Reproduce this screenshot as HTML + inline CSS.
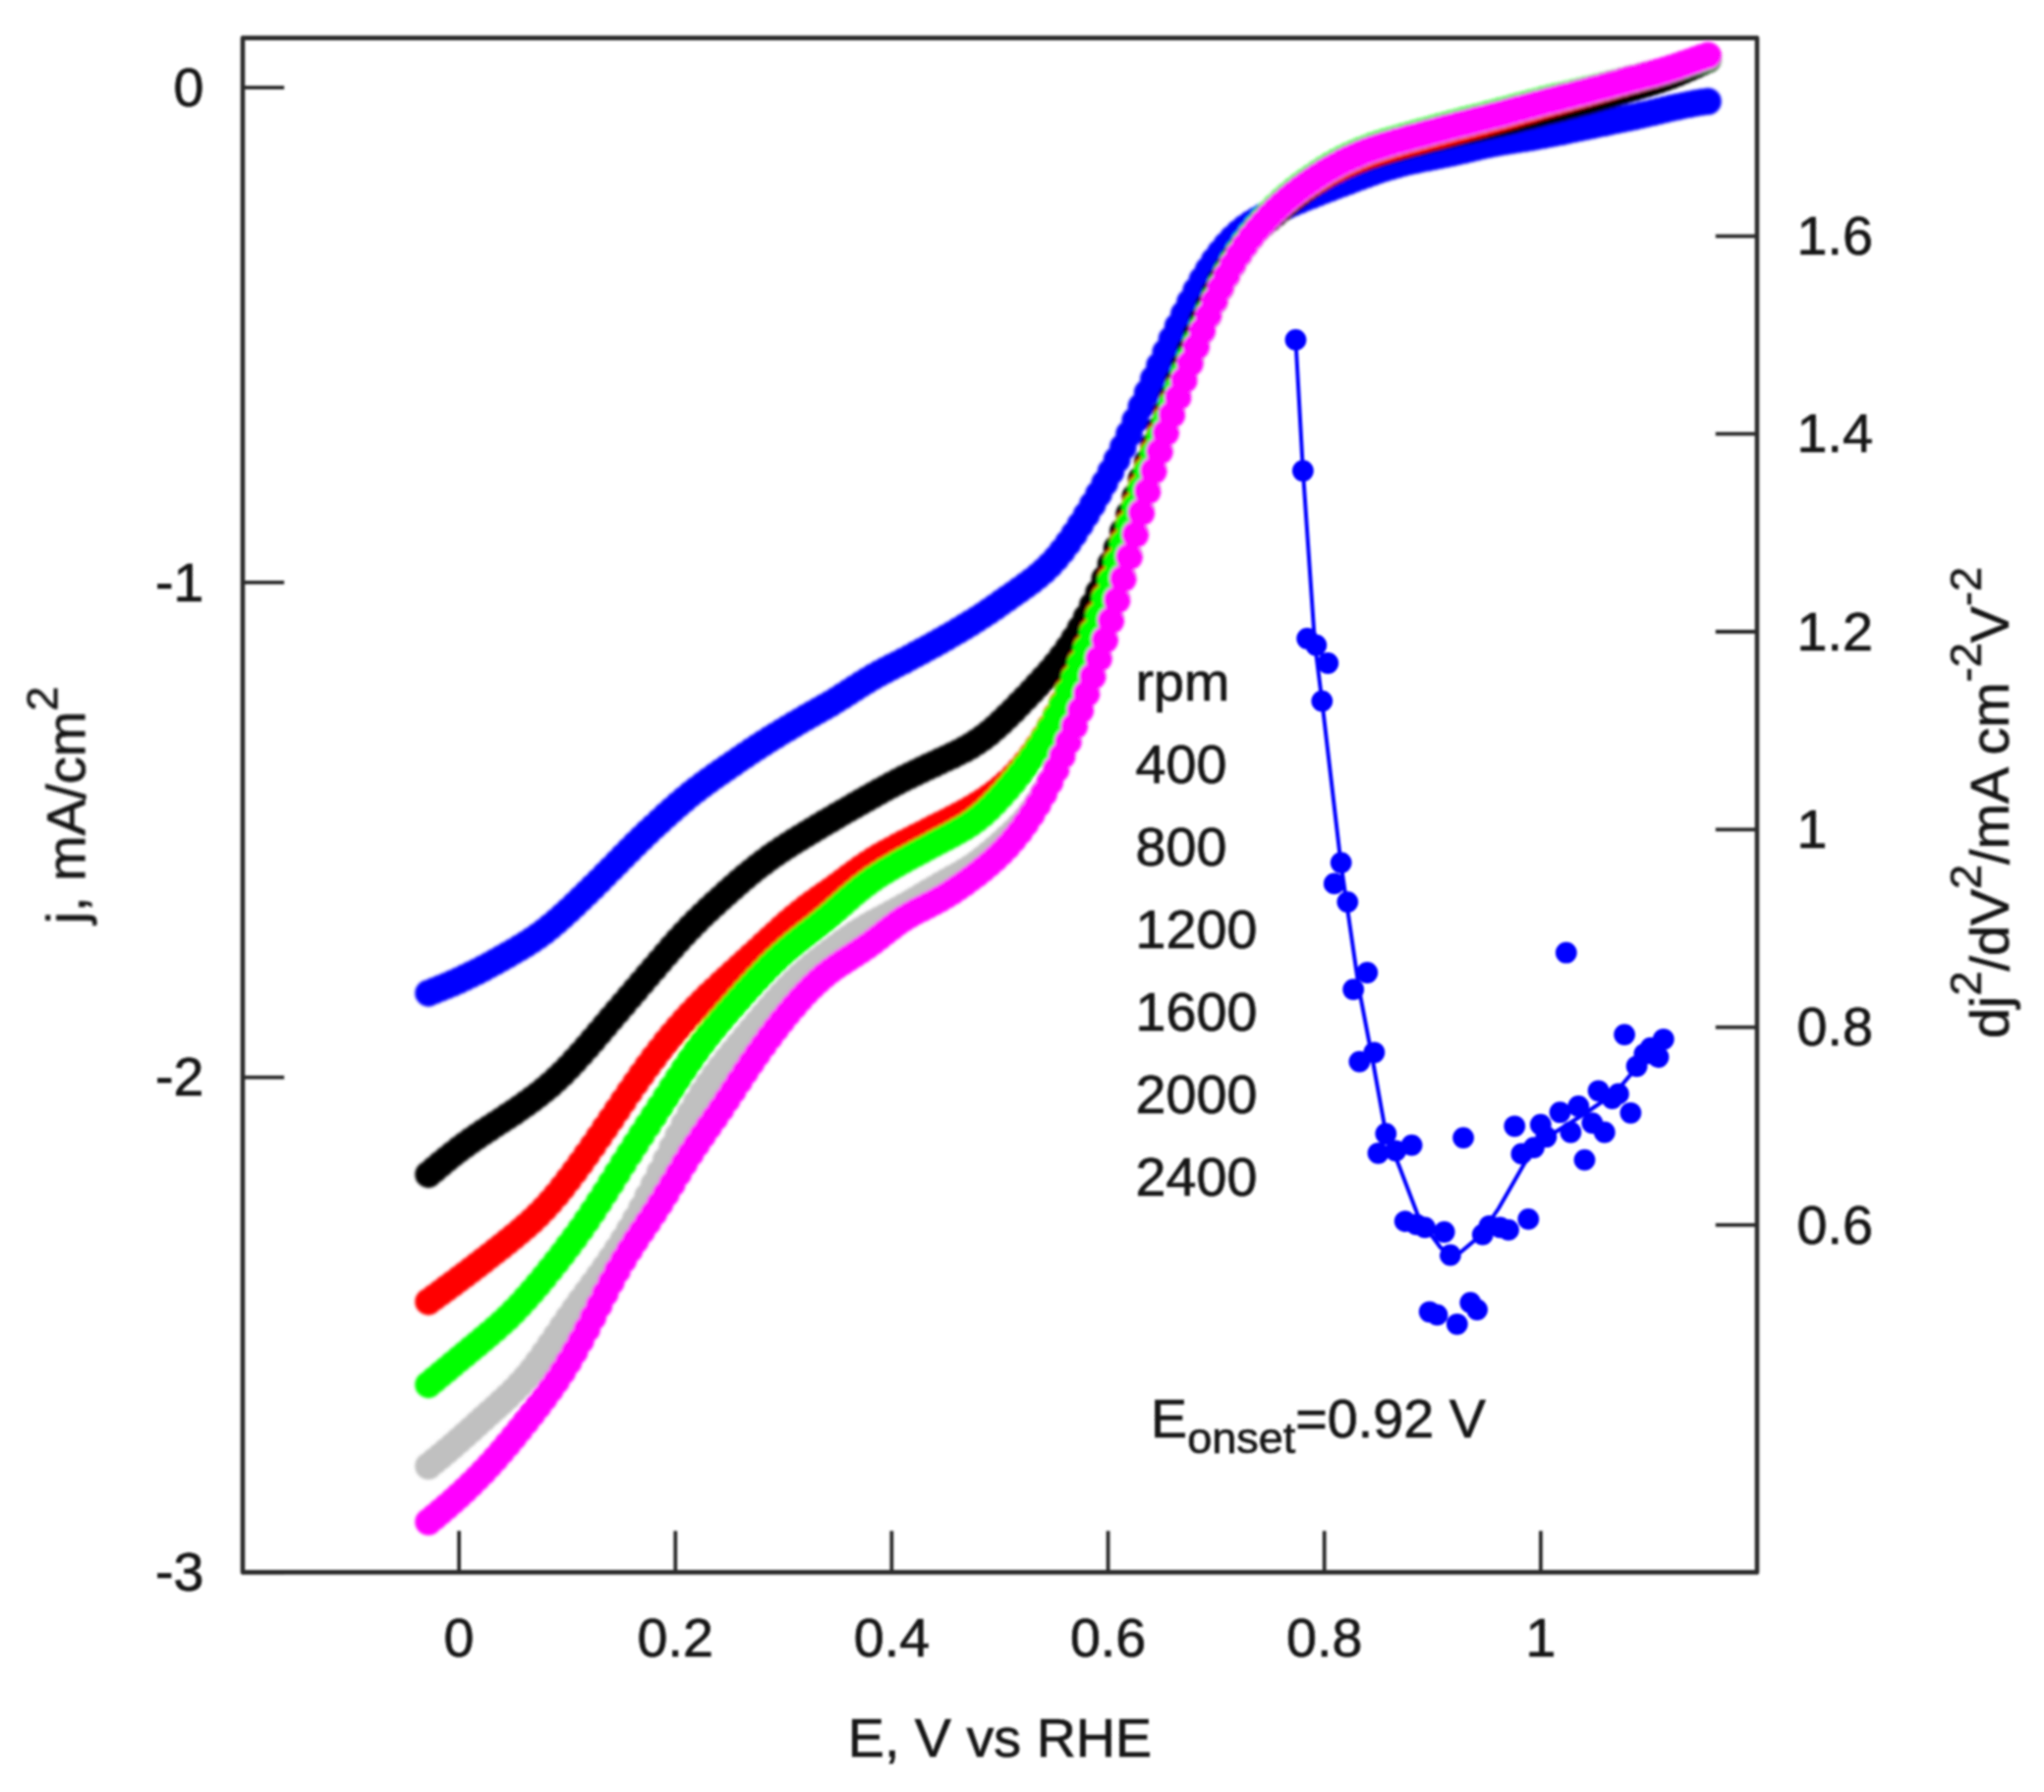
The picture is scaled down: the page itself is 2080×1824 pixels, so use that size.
<!DOCTYPE html>
<html><head><meta charset="utf-8"><title>RDE polarization curves</title>
<style>
html,body{margin:0;padding:0;background:#fff;}
body{width:2080px;height:1824px;overflow:hidden;}
svg{display:block}
text{font-family:"Liberation Sans",sans-serif;font-size:55.7px;fill:#161616;stroke:#161616;stroke-width:0.7px;}
.sm{font-size:45px}
</style></head><body>
<svg width="2080" height="1824" viewBox="0 0 2080 1824">
<rect width="2080" height="1824" fill="#fff"/>
<g filter="url(#bl)">
<g filter="url(#bc)">
<path d="M436.0 1010.9h0M442.2 1008.4h0M448.4 1005.9h0M454.6 1003.4h0M460.8 1000.7h0M467.0 998.0h0M473.2 995.1h0M479.4 992.1h0M485.6 989.0h0M491.8 985.8h0M498.0 982.4h0M504.2 979.0h0M510.4 975.5h0M516.6 972.0h0M522.8 968.4h0M529.0 964.8h0M535.2 961.0h0M541.4 957.0h0M547.6 952.7h0M553.8 948.2h0M560.0 943.3h0M566.2 938.1h0M572.4 932.6h0M578.6 926.9h0M584.8 921.1h0M591.0 915.1h0M597.2 909.1h0M603.4 903.0h0M609.6 896.9h0M615.8 890.6h0M622.0 884.4h0M628.2 878.1h0M634.4 871.8h0M640.6 865.5h0M646.8 859.3h0M653.0 853.3h0M659.2 847.3h0M665.4 841.4h0M671.6 835.7h0M677.8 830.0h0M684.0 824.5h0M690.2 819.0h0M696.4 813.7h0M702.6 808.6h0M708.8 803.7h0M715.0 799.1h0M721.2 794.5h0M727.4 790.1h0M733.6 785.8h0M739.8 781.5h0M746.0 777.2h0M752.2 772.9h0M758.4 768.7h0M764.6 764.6h0M770.8 760.5h0M777.0 756.5h0M783.2 752.6h0M789.4 748.7h0M795.6 744.9h0M801.8 741.2h0M808.0 737.5h0M814.2 733.9h0M820.4 730.3h0M826.6 726.8h0M832.8 723.3h0M839.0 719.8h0M845.2 716.2h0M851.4 712.4h0M857.6 708.5h0M863.8 704.6h0M870.0 700.5h0M876.2 696.6h0M882.4 692.8h0M888.6 689.1h0M894.8 685.6h0M901.0 682.3h0M907.2 679.1h0M913.4 675.9h0M919.6 672.7h0M925.8 669.4h0M932.0 666.1h0M938.2 662.8h0M944.4 659.4h0M950.6 656.0h0M956.8 652.5h0M963.0 649.0h0M969.2 645.4h0M975.4 641.8h0M981.6 638.1h0M987.8 634.3h0M994.0 630.4h0M1000.2 626.4h0M1006.4 622.2h0M1012.6 618.0h0M1018.8 613.6h0M1025.0 609.3h0M1031.2 604.9h0M1037.4 600.5h0M1043.6 596.1h0M1049.8 591.5h0M1056.0 586.6h0M1062.2 581.3h0M1068.4 575.3h0M1074.6 568.6h0M1080.8 561.0h0M1087.0 552.7h0M1093.2 543.7h0M1099.4 534.1h0M1105.6 524.1h0M1111.8 513.7h0M1118.0 503.0h0M1124.2 491.8h0M1130.4 480.2h0M1136.6 468.0h0M1142.8 455.2h0M1149.0 441.8h0M1155.2 427.9h0M1161.4 413.8h0M1167.6 399.6h0M1173.8 385.6h0M1180.0 371.9h0M1186.2 358.4h0M1192.4 345.2h0M1198.6 332.3h0M1204.8 319.6h0M1211.0 307.4h0M1217.2 295.7h0M1223.4 284.7h0M1229.6 274.6h0M1235.8 265.3h0M1242.0 256.9h0M1248.2 249.4h0M1254.4 242.8h0M1260.6 237.0h0M1266.8 232.0h0M1273.0 227.7h0M1279.2 224.0h0M1285.4 220.6h0M1291.6 217.5h0M1297.8 214.7h0M1304.0 211.9h0M1310.2 209.2h0M1316.4 206.6h0M1322.6 204.0h0M1328.8 201.4h0M1335.0 199.0h0M1341.2 196.5h0M1347.4 194.1h0M1353.6 191.8h0M1359.8 189.4h0M1366.0 187.1h0M1372.2 184.8h0M1378.4 182.4h0M1384.6 180.1h0M1390.8 177.8h0M1397.0 175.6h0M1403.2 173.4h0M1409.4 171.4h0M1415.6 169.5h0M1421.8 167.7h0M1428.0 166.1h0M1434.2 164.6h0M1440.4 163.2h0M1446.6 161.9h0M1452.8 160.7h0M1459.0 159.5h0M1465.2 158.3h0M1471.4 157.1h0M1477.6 155.8h0M1483.8 154.4h0M1490.0 153.0h0M1496.2 151.5h0M1502.4 150.1h0M1508.6 148.6h0M1514.8 147.3h0M1521.0 146.1h0M1527.2 144.9h0M1533.4 143.9h0M1539.6 142.9h0M1545.8 141.9h0M1552.0 141.0h0M1558.2 140.0h0M1564.4 138.9h0M1570.6 137.8h0M1576.8 136.6h0M1583.0 135.4h0M1589.2 134.2h0M1595.4 132.9h0M1601.6 131.6h0M1607.8 130.3h0M1614.0 129.0h0M1620.2 127.7h0M1626.4 126.4h0M1632.6 125.2h0M1638.8 123.9h0M1645.0 122.6h0M1651.2 121.3h0M1657.4 120.0h0M1663.6 118.7h0M1669.8 117.3h0M1676.0 115.9h0M1682.2 114.5h0M1688.4 113.0h0M1694.6 111.5h0M1700.8 110.1h0M1707.0 108.7h0M1713.2 107.4h0M1719.4 106.2h0M1725.6 105.1h0M1731.8 104.1h0M1738.0 103.3h0" fill="none" stroke="#0000ff" stroke-width="27.5" stroke-linecap="round"/>
<path d="M436.0 1195.4h0M442.2 1190.2h0M448.4 1185.0h0M454.6 1179.9h0M460.8 1174.9h0M467.0 1170.1h0M473.2 1165.5h0M479.4 1161.0h0M485.6 1156.7h0M491.8 1152.5h0M498.0 1148.5h0M504.2 1144.4h0M510.4 1140.4h0M516.6 1136.3h0M522.8 1132.2h0M529.0 1127.9h0M535.2 1123.6h0M541.4 1119.1h0M547.6 1114.4h0M553.8 1109.4h0M560.0 1104.2h0M566.2 1098.6h0M572.4 1092.7h0M578.6 1086.4h0M584.8 1079.8h0M591.0 1072.9h0M597.2 1065.9h0M603.4 1058.7h0M609.6 1051.4h0M615.8 1044.1h0M622.0 1036.8h0M628.2 1029.5h0M634.4 1022.2h0M640.6 1014.9h0M646.8 1007.7h0M653.0 1000.4h0M659.2 993.1h0M665.4 985.9h0M671.6 978.6h0M677.8 971.4h0M684.0 964.3h0M690.2 957.3h0M696.4 950.5h0M702.6 944.0h0M708.8 937.7h0M715.0 931.6h0M721.2 925.7h0M727.4 920.0h0M733.6 914.4h0M739.8 908.8h0M746.0 903.3h0M752.2 897.8h0M758.4 892.5h0M764.6 887.4h0M770.8 882.4h0M777.0 877.7h0M783.2 873.1h0M789.4 868.8h0M795.6 864.6h0M801.8 860.6h0M808.0 856.6h0M814.2 852.8h0M820.4 849.0h0M826.6 845.2h0M832.8 841.5h0M839.0 837.8h0M845.2 834.2h0M851.4 830.5h0M857.6 826.9h0M863.8 823.4h0M870.0 819.8h0M876.2 816.3h0M882.4 812.8h0M888.6 809.3h0M894.8 805.8h0M901.0 802.4h0M907.2 799.0h0M913.4 795.8h0M919.6 792.6h0M925.8 789.5h0M932.0 786.5h0M938.2 783.5h0M944.4 780.6h0M950.6 777.7h0M956.8 774.8h0M963.0 771.9h0M969.2 769.0h0M975.4 765.9h0M981.6 762.7h0M987.8 759.2h0M994.0 755.3h0M1000.2 751.0h0M1006.4 746.2h0M1012.6 740.9h0M1018.8 735.3h0M1025.0 729.3h0M1031.2 723.2h0M1037.4 716.8h0M1043.6 710.4h0M1049.8 703.9h0M1056.0 697.3h0M1062.2 690.5h0M1068.4 683.6h0M1074.6 676.2h0M1080.8 668.3h0M1087.0 659.6h0M1093.2 650.1h0M1099.4 639.7h0M1105.6 628.4h0M1111.8 616.2h0M1118.0 603.1h0M1124.2 589.0h0M1130.4 574.0h0M1136.6 557.9h0M1142.8 541.0h0M1149.0 523.4h0M1155.2 505.6h0M1161.4 487.7h0M1167.6 470.2h0M1173.8 453.0h0M1180.0 436.2h0M1186.2 419.8h0M1192.4 403.6h0M1198.6 387.6h0M1204.8 371.7h0M1211.0 356.0h0M1217.2 340.5h0M1223.4 325.5h0M1229.6 311.2h0M1235.8 297.7h0M1242.0 285.2h0M1248.2 273.9h0M1254.4 263.8h0M1260.6 254.9h0M1266.8 247.0h0M1273.0 240.0h0M1279.2 233.8h0M1285.4 228.1h0M1291.6 222.7h0M1297.8 217.5h0M1304.0 212.4h0M1310.2 207.3h0M1316.4 202.4h0M1322.6 197.5h0M1328.8 192.8h0M1335.0 188.4h0M1341.2 184.2h0M1347.4 180.4h0M1353.6 176.8h0M1359.8 173.6h0M1366.0 170.5h0M1372.2 167.8h0M1378.4 165.2h0M1384.6 162.8h0M1390.8 160.6h0M1397.0 158.5h0M1403.2 156.5h0M1409.4 154.7h0M1415.6 152.9h0M1421.8 151.2h0M1428.0 149.5h0M1434.2 147.9h0M1440.4 146.3h0M1446.6 144.7h0M1452.8 143.1h0M1459.0 141.5h0M1465.2 140.0h0M1471.4 138.5h0M1477.6 137.0h0M1483.8 135.5h0M1490.0 134.1h0M1496.2 132.7h0M1502.4 131.3h0M1508.6 129.9h0M1514.8 128.5h0M1521.0 127.1h0M1527.2 125.7h0M1533.4 124.2h0M1539.6 122.7h0M1545.8 121.1h0M1552.0 119.6h0M1558.2 118.0h0M1564.4 116.5h0M1570.6 114.9h0M1576.8 113.3h0M1583.0 111.8h0M1589.2 110.2h0M1595.4 108.6h0M1601.6 107.0h0M1607.8 105.4h0M1614.0 103.7h0M1620.2 102.0h0M1626.4 100.3h0M1632.6 98.5h0M1638.8 96.7h0M1645.0 94.8h0M1651.2 93.0h0M1657.4 91.1h0M1663.6 89.3h0M1669.8 87.4h0M1676.0 85.5h0M1682.2 83.5h0M1688.4 81.5h0M1694.6 79.3h0M1700.8 77.0h0M1707.0 74.5h0M1713.2 71.9h0M1719.4 69.1h0M1725.6 66.3h0M1731.8 63.4h0M1738.0 60.6h0" fill="none" stroke="#000000" stroke-width="27.5" stroke-linecap="round"/>
<path d="M436.0 1324.9h0M442.2 1320.4h0M448.4 1315.9h0M454.6 1311.3h0M460.8 1306.8h0M467.0 1302.1h0M473.2 1297.5h0M479.4 1292.8h0M485.6 1288.0h0M491.8 1283.3h0M498.0 1278.4h0M504.2 1273.6h0M510.4 1268.7h0M516.6 1263.7h0M522.8 1258.7h0M529.0 1253.6h0M535.2 1248.3h0M541.4 1242.7h0M547.6 1236.7h0M553.8 1230.4h0M560.0 1223.6h0M566.2 1216.4h0M572.4 1208.7h0M578.6 1200.7h0M584.8 1192.5h0M591.0 1184.0h0M597.2 1175.3h0M603.4 1166.4h0M609.6 1157.4h0M615.8 1148.3h0M622.0 1139.2h0M628.2 1130.0h0M634.4 1120.7h0M640.6 1111.6h0M646.8 1102.6h0M653.0 1093.7h0M659.2 1085.1h0M665.4 1076.7h0M671.6 1068.6h0M677.8 1060.8h0M684.0 1053.3h0M690.2 1046.0h0M696.4 1039.0h0M702.6 1032.3h0M708.8 1025.7h0M715.0 1019.4h0M721.2 1013.3h0M727.4 1007.4h0M733.6 1001.6h0M739.8 995.9h0M746.0 990.2h0M752.2 984.6h0M758.4 979.0h0M764.6 973.3h0M770.8 967.6h0M777.0 961.8h0M783.2 956.1h0M789.4 950.4h0M795.6 944.7h0M801.8 939.2h0M808.0 934.0h0M814.2 928.9h0M820.4 924.1h0M826.6 919.5h0M832.8 915.1h0M839.0 910.8h0M845.2 906.4h0M851.4 902.0h0M857.6 897.4h0M863.8 892.8h0M870.0 888.2h0M876.2 883.8h0M882.4 879.6h0M888.6 875.6h0M894.8 871.8h0M901.0 868.3h0M907.2 864.9h0M913.4 861.6h0M919.6 858.3h0M925.8 855.2h0M932.0 852.0h0M938.2 848.9h0M944.4 845.8h0M950.6 842.6h0M956.8 839.5h0M963.0 836.4h0M969.2 833.2h0M975.4 830.0h0M981.6 826.7h0M987.8 823.3h0M994.0 819.6h0M1000.2 815.7h0M1006.4 811.5h0M1012.6 807.0h0M1018.8 802.0h0M1025.0 796.5h0M1031.2 790.6h0M1037.4 784.0h0M1043.6 776.8h0M1049.8 768.8h0M1056.0 760.0h0M1062.2 750.4h0M1068.4 739.8h0M1074.6 728.3h0M1080.8 715.8h0M1087.0 702.5h0M1093.2 688.5h0M1099.4 673.6h0M1105.6 658.0h0M1111.8 641.6h0M1118.0 624.5h0M1124.2 606.7h0M1130.4 588.3h0M1136.6 569.6h0M1142.8 550.7h0M1149.0 531.8h0M1155.2 513.1h0M1161.4 494.7h0M1167.6 476.7h0M1173.8 459.2h0M1180.0 442.3h0M1186.2 425.8h0M1192.4 409.9h0M1198.6 394.5h0M1204.8 379.5h0M1211.0 364.8h0M1217.2 350.1h0M1223.4 335.5h0M1229.6 321.1h0M1235.8 307.0h0M1242.0 293.6h0M1248.2 281.1h0M1254.4 269.7h0M1260.6 259.4h0M1266.8 250.1h0M1273.0 241.7h0M1279.2 234.0h0M1285.4 227.0h0M1291.6 220.4h0M1297.8 214.4h0M1304.0 208.9h0M1310.2 203.8h0M1316.4 199.0h0M1322.6 194.6h0M1328.8 190.4h0M1335.0 186.3h0M1341.2 182.5h0M1347.4 178.9h0M1353.6 175.4h0M1359.8 172.2h0M1366.0 169.1h0M1372.2 166.2h0M1378.4 163.5h0M1384.6 161.0h0M1390.8 158.6h0M1397.0 156.5h0M1403.2 154.4h0M1409.4 152.5h0M1415.6 150.6h0M1421.8 148.9h0M1428.0 147.1h0M1434.2 145.4h0M1440.4 143.8h0M1446.6 142.1h0M1452.8 140.4h0M1459.0 138.8h0M1465.2 137.2h0M1471.4 135.5h0M1477.6 133.9h0M1483.8 132.2h0M1490.0 130.6h0M1496.2 128.9h0M1502.4 127.2h0M1508.6 125.5h0M1514.8 123.8h0M1521.0 122.0h0M1527.2 120.3h0M1533.4 118.5h0M1539.6 116.7h0M1545.8 114.9h0M1552.0 113.0h0M1558.2 111.2h0M1564.4 109.4h0M1570.6 107.6h0M1576.8 105.8h0M1583.0 104.1h0M1589.2 102.3h0M1595.4 100.6h0M1601.6 98.8h0M1607.8 97.1h0M1614.0 95.3h0M1620.2 93.6h0M1626.4 91.8h0M1632.6 90.0h0M1638.8 88.2h0M1645.0 86.4h0M1651.2 84.7h0M1657.4 82.9h0M1663.6 81.2h0M1669.8 79.6h0M1676.0 77.9h0M1682.2 76.2h0M1688.4 74.4h0M1694.6 72.6h0M1700.8 70.6h0M1707.0 68.5h0M1713.2 66.3h0M1719.4 64.0h0M1725.6 61.8h0M1731.8 59.6h0M1738.0 57.5h0" fill="none" stroke="#ff0000" stroke-width="27.5" stroke-linecap="round"/>
<path d="M436.0 1409.4h0M442.2 1404.2h0M448.4 1399.1h0M454.6 1394.0h0M460.8 1388.8h0M467.0 1383.6h0M473.2 1378.5h0M479.4 1373.3h0M485.6 1368.2h0M491.8 1363.0h0M498.0 1357.8h0M504.2 1352.5h0M510.4 1346.9h0M516.6 1341.2h0M522.8 1335.0h0M529.0 1328.6h0M535.2 1321.8h0M541.4 1314.8h0M547.6 1307.5h0M553.8 1300.0h0M560.0 1292.3h0M566.2 1284.5h0M572.4 1276.5h0M578.6 1268.3h0M584.8 1260.0h0M591.0 1251.4h0M597.2 1242.5h0M603.4 1233.3h0M609.6 1223.8h0M615.8 1214.1h0M622.0 1204.2h0M628.2 1194.3h0M634.4 1184.3h0M640.6 1174.5h0M646.8 1164.7h0M653.0 1155.0h0M659.2 1145.5h0M665.4 1135.9h0M671.6 1126.4h0M677.8 1116.9h0M684.0 1107.3h0M690.2 1097.8h0M696.4 1088.3h0M702.6 1079.0h0M708.8 1070.0h0M715.0 1061.4h0M721.2 1053.3h0M727.4 1045.5h0M733.6 1038.0h0M739.8 1030.8h0M746.0 1023.7h0M752.2 1016.7h0M758.4 1009.8h0M764.6 1003.0h0M770.8 996.3h0M777.0 989.7h0M783.2 983.3h0M789.4 977.2h0M795.6 971.4h0M801.8 965.9h0M808.0 960.7h0M814.2 955.7h0M820.4 950.8h0M826.6 946.0h0M832.8 941.1h0M839.0 936.0h0M845.2 930.7h0M851.4 925.3h0M857.6 919.8h0M863.8 914.3h0M870.0 908.9h0M876.2 903.8h0M882.4 899.0h0M888.6 894.5h0M894.8 890.4h0M901.0 886.5h0M907.2 882.9h0M913.4 879.3h0M919.6 875.8h0M925.8 872.4h0M932.0 869.1h0M938.2 865.7h0M944.4 862.4h0M950.6 859.1h0M956.8 855.8h0M963.0 852.6h0M969.2 849.3h0M975.4 845.8h0M981.6 842.2h0M987.8 838.2h0M994.0 833.7h0M1000.2 828.7h0M1006.4 823.0h0M1012.6 816.8h0M1018.8 810.1h0M1025.0 803.1h0M1031.2 795.7h0M1037.4 787.9h0M1043.6 779.8h0M1049.8 771.2h0M1056.0 762.0h0M1062.2 752.1h0M1068.4 741.4h0M1074.6 729.8h0M1080.8 717.4h0M1087.0 704.2h0M1093.2 690.2h0M1099.4 675.5h0M1105.6 660.0h0M1111.8 643.7h0M1118.0 626.7h0M1124.2 609.0h0M1130.4 590.7h0M1136.6 572.0h0M1142.8 553.1h0M1149.0 534.2h0M1155.2 515.5h0M1161.4 497.2h0M1167.6 479.2h0M1173.8 461.6h0M1180.0 444.6h0M1186.2 427.9h0M1192.4 411.5h0M1198.6 395.5h0M1204.8 379.6h0M1211.0 364.0h0M1217.2 348.4h0M1223.4 333.1h0M1229.6 318.1h0M1235.8 303.8h0M1242.0 290.2h0M1248.2 277.7h0M1254.4 266.4h0M1260.6 256.1h0M1266.8 246.8h0M1273.0 238.4h0M1279.2 230.7h0M1285.4 223.5h0M1291.6 216.8h0M1297.8 210.5h0M1304.0 204.6h0M1310.2 199.2h0M1316.4 194.1h0M1322.6 189.3h0M1328.8 184.7h0M1335.0 180.4h0M1341.2 176.2h0M1347.4 172.3h0M1353.6 168.6h0M1359.8 165.1h0M1366.0 161.8h0M1372.2 158.8h0M1378.4 155.9h0M1384.6 153.3h0M1390.8 150.9h0M1397.0 148.6h0M1403.2 146.5h0M1409.4 144.6h0M1415.6 142.7h0M1421.8 140.9h0M1428.0 139.2h0M1434.2 137.5h0M1440.4 135.7h0M1446.6 134.1h0M1452.8 132.4h0M1459.0 130.7h0M1465.2 129.1h0M1471.4 127.4h0M1477.6 125.8h0M1483.8 124.2h0M1490.0 122.6h0M1496.2 121.1h0M1502.4 119.5h0M1508.6 117.9h0M1514.8 116.3h0M1521.0 114.7h0M1527.2 113.1h0M1533.4 111.5h0M1539.6 109.8h0M1545.8 108.1h0M1552.0 106.5h0M1558.2 104.8h0M1564.4 103.2h0M1570.6 101.6h0M1576.8 100.1h0M1583.0 98.6h0M1589.2 97.2h0M1595.4 95.7h0M1601.6 94.3h0M1607.8 92.8h0M1614.0 91.3h0M1620.2 89.9h0M1626.4 88.3h0M1632.6 86.8h0M1638.8 85.2h0M1645.0 83.7h0M1651.2 82.2h0M1657.4 80.7h0M1663.6 79.2h0M1669.8 77.8h0M1676.0 76.3h0M1682.2 74.9h0M1688.4 73.4h0M1694.6 71.7h0M1700.8 70.0h0M1707.0 68.1h0M1713.2 66.2h0M1719.4 64.1h0M1725.6 62.2h0M1731.8 60.2h0M1738.0 58.4h0" fill="none" stroke="#00ff00" stroke-width="27.5" stroke-linecap="round"/>
<path d="M436.0 1492.3h0M442.2 1487.3h0M448.4 1482.2h0M454.6 1477.0h0M460.8 1471.7h0M467.0 1466.3h0M473.2 1460.8h0M479.4 1455.3h0M485.6 1449.6h0M491.8 1444.0h0M498.0 1438.4h0M504.2 1432.9h0M510.4 1427.2h0M516.6 1421.5h0M522.8 1415.4h0M529.0 1409.0h0M535.2 1402.1h0M541.4 1394.6h0M547.6 1386.5h0M553.8 1377.8h0M560.0 1368.8h0M566.2 1359.7h0M572.4 1350.5h0M578.6 1341.4h0M584.8 1332.6h0M591.0 1324.0h0M597.2 1315.6h0M603.4 1307.2h0M609.6 1298.7h0M615.8 1290.0h0M622.0 1281.0h0M628.2 1271.7h0M634.4 1261.9h0M640.6 1251.6h0M646.8 1240.9h0M653.0 1229.6h0M659.2 1217.8h0M665.4 1205.6h0M671.6 1193.1h0M677.8 1180.6h0M684.0 1168.1h0M690.2 1156.0h0M696.4 1144.3h0M702.6 1133.2h0M708.8 1122.7h0M715.0 1112.8h0M721.2 1103.6h0M727.4 1094.8h0M733.6 1086.5h0M739.8 1078.6h0M746.0 1070.9h0M752.2 1063.4h0M758.4 1056.0h0M764.6 1048.5h0M770.8 1041.1h0M777.0 1033.8h0M783.2 1026.5h0M789.4 1019.4h0M795.6 1012.5h0M801.8 1005.9h0M808.0 999.7h0M814.2 993.8h0M820.4 988.2h0M826.6 983.0h0M832.8 978.0h0M839.0 973.2h0M845.2 968.5h0M851.4 963.9h0M857.6 959.3h0M863.8 954.9h0M870.0 950.6h0M876.2 946.7h0M882.4 943.0h0M888.6 939.5h0M894.8 936.2h0M901.0 932.9h0M907.2 929.6h0M913.4 926.3h0M919.6 922.8h0M925.8 919.3h0M932.0 915.7h0M938.2 912.0h0M944.4 908.3h0M950.6 904.7h0M956.8 901.1h0M963.0 897.6h0M969.2 894.1h0M975.4 890.7h0M981.6 887.0h0M987.8 883.2h0M994.0 879.0h0M1000.2 874.3h0M1006.4 869.3h0M1012.6 864.0h0M1018.8 858.5h0M1025.0 852.8h0M1031.2 847.0h0M1037.4 840.8h0M1043.6 833.9h0M1049.8 826.0h0M1056.0 817.0h0M1062.2 806.7h0M1068.4 795.1h0M1074.6 782.3h0M1080.8 768.5h0M1087.0 753.6h0M1093.2 737.9h0M1099.4 721.5h0M1105.6 704.5h0M1111.8 686.9h0M1118.0 668.6h0M1124.2 649.7h0M1130.4 629.8h0M1136.6 608.9h0M1142.8 587.1h0M1149.0 564.7h0M1155.2 542.1h0M1161.4 519.7h0M1167.6 498.1h0M1173.8 477.4h0M1180.0 457.7h0M1186.2 438.8h0M1192.4 420.7h0M1198.6 403.2h0M1204.8 386.2h0M1211.0 369.5h0M1217.2 353.2h0M1223.4 337.3h0M1229.6 322.0h0M1235.8 307.5h0M1242.0 293.9h0M1248.2 281.5h0M1254.4 270.2h0M1260.6 259.9h0M1266.8 250.7h0M1273.0 242.3h0M1279.2 234.6h0M1285.4 227.4h0M1291.6 220.6h0M1297.8 214.4h0M1304.0 208.5h0M1310.2 203.1h0M1316.4 197.9h0M1322.6 193.1h0M1328.8 188.6h0M1335.0 184.2h0M1341.2 180.0h0M1347.4 176.1h0M1353.6 172.4h0M1359.8 168.9h0M1366.0 165.6h0M1372.2 162.6h0M1378.4 159.7h0M1384.6 157.1h0M1390.8 154.6h0M1397.0 152.3h0M1403.2 150.2h0M1409.4 148.3h0M1415.6 146.4h0M1421.8 144.6h0M1428.0 142.9h0M1434.2 141.1h0M1440.4 139.4h0M1446.6 137.7h0M1452.8 136.0h0M1459.0 134.4h0M1465.2 132.7h0M1471.4 131.1h0M1477.6 129.4h0M1483.8 127.8h0M1490.0 126.2h0M1496.2 124.7h0M1502.4 123.1h0M1508.6 121.5h0M1514.8 119.9h0M1521.0 118.3h0M1527.2 116.7h0M1533.4 115.0h0M1539.6 113.3h0M1545.8 111.6h0M1552.0 109.9h0M1558.2 108.2h0M1564.4 106.6h0M1570.6 104.9h0M1576.8 103.3h0M1583.0 101.7h0M1589.2 100.1h0M1595.4 98.5h0M1601.6 96.9h0M1607.8 95.3h0M1614.0 93.7h0M1620.2 92.1h0M1626.4 90.4h0M1632.6 88.8h0M1638.8 87.1h0M1645.0 85.4h0M1651.2 83.7h0M1657.4 82.1h0M1663.6 80.5h0M1669.8 78.9h0M1676.0 77.3h0M1682.2 75.7h0M1688.4 74.0h0M1694.6 72.2h0M1700.8 70.2h0M1707.0 68.2h0M1713.2 66.0h0M1719.4 63.9h0M1725.6 61.7h0M1731.8 59.5h0M1738.0 57.5h0" fill="none" stroke="#c0c0c0" stroke-width="27.5" stroke-linecap="round"/>
<path d="M436.0 1549.1h0M442.2 1544.0h0M448.4 1538.8h0M454.6 1533.5h0M460.8 1528.1h0M467.0 1522.5h0M473.2 1516.7h0M479.4 1510.7h0M485.6 1504.6h0M491.8 1498.2h0M498.0 1491.6h0M504.2 1484.7h0M510.4 1477.6h0M516.6 1470.3h0M522.8 1462.8h0M529.0 1455.1h0M535.2 1447.3h0M541.4 1439.3h0M547.6 1431.3h0M553.8 1423.1h0M560.0 1414.5h0M566.2 1405.7h0M572.4 1396.3h0M578.6 1386.3h0M584.8 1375.7h0M591.0 1364.6h0M597.2 1352.9h0M603.4 1340.8h0M609.6 1328.6h0M615.8 1316.5h0M622.0 1304.7h0M628.2 1293.3h0M634.4 1282.6h0M640.6 1272.4h0M646.8 1262.8h0M653.0 1253.4h0M659.2 1244.2h0M665.4 1234.9h0M671.6 1225.2h0M677.8 1215.2h0M684.0 1205.0h0M690.2 1194.6h0M696.4 1184.3h0M702.6 1174.4h0M708.8 1164.9h0M715.0 1155.7h0M721.2 1146.8h0M727.4 1137.9h0M733.6 1128.9h0M739.8 1119.6h0M746.0 1110.1h0M752.2 1100.5h0M758.4 1091.1h0M764.6 1081.8h0M770.8 1072.7h0M777.0 1063.9h0M783.2 1055.5h0M789.4 1047.2h0M795.6 1039.3h0M801.8 1031.6h0M808.0 1024.2h0M814.2 1017.1h0M820.4 1010.4h0M826.6 1004.1h0M832.8 998.2h0M839.0 992.8h0M845.2 987.9h0M851.4 983.4h0M857.6 979.2h0M863.8 975.2h0M870.0 971.3h0M876.2 967.3h0M882.4 963.0h0M888.6 958.5h0M894.8 953.8h0M901.0 948.8h0M907.2 944.0h0M913.4 939.3h0M919.6 935.0h0M925.8 931.2h0M932.0 927.8h0M938.2 924.7h0M944.4 921.6h0M950.6 918.4h0M956.8 915.0h0M963.0 911.4h0M969.2 907.5h0M975.4 903.3h0M981.6 899.0h0M987.8 894.4h0M994.0 889.7h0M1000.2 884.8h0M1006.4 879.6h0M1012.6 874.1h0M1018.8 868.1h0M1025.0 861.7h0M1031.2 854.6h0M1037.4 846.9h0M1043.6 838.3h0M1049.8 829.0h0M1056.0 818.9h0M1062.2 807.9h0M1068.4 796.0h0M1074.6 783.2h0M1080.8 769.5h0M1087.0 754.9h0M1093.2 739.3h0M1099.4 723.0h0M1105.6 706.1h0M1111.8 688.6h0M1118.0 670.4h0M1124.2 651.5h0M1130.4 631.8h0M1136.6 611.0h0M1142.8 589.3h0M1149.0 566.9h0M1155.2 544.3h0M1161.4 521.9h0M1167.6 500.3h0M1173.8 479.5h0M1180.0 459.6h0M1186.2 440.6h0M1192.4 422.3h0M1198.6 404.4h0M1204.8 386.9h0M1211.0 369.8h0M1217.2 353.0h0M1223.4 336.7h0M1229.6 321.1h0M1235.8 306.4h0M1242.0 292.8h0M1248.2 280.4h0M1254.4 269.1h0M1260.6 258.9h0M1266.8 249.7h0M1273.0 241.3h0M1279.2 233.6h0M1285.4 226.4h0M1291.6 219.6h0M1297.8 213.4h0M1304.0 207.5h0M1310.2 202.1h0M1316.4 197.0h0M1322.6 192.1h0M1328.8 187.6h0M1335.0 183.2h0M1341.2 179.0h0M1347.4 175.1h0M1353.6 171.4h0M1359.8 167.9h0M1366.0 164.6h0M1372.2 161.6h0M1378.4 158.7h0M1384.6 156.1h0M1390.8 153.6h0M1397.0 151.3h0M1403.2 149.2h0M1409.4 147.3h0M1415.6 145.4h0M1421.8 143.6h0M1428.0 141.9h0M1434.2 140.1h0M1440.4 138.4h0M1446.6 136.7h0M1452.8 135.0h0M1459.0 133.4h0M1465.2 131.7h0M1471.4 130.1h0M1477.6 128.4h0M1483.8 126.8h0M1490.0 125.2h0M1496.2 123.7h0M1502.4 122.1h0M1508.6 120.5h0M1514.8 118.9h0M1521.0 117.3h0M1527.2 115.7h0M1533.4 114.0h0M1539.6 112.3h0M1545.8 110.6h0M1552.0 108.9h0M1558.2 107.2h0M1564.4 105.6h0M1570.6 103.9h0M1576.8 102.3h0M1583.0 100.7h0M1589.2 99.1h0M1595.4 97.5h0M1601.6 95.9h0M1607.8 94.3h0M1614.0 92.7h0M1620.2 91.1h0M1626.4 89.4h0M1632.6 87.8h0M1638.8 86.1h0M1645.0 84.4h0M1651.2 82.7h0M1657.4 81.1h0M1663.6 79.5h0M1669.8 77.9h0M1676.0 76.3h0M1682.2 74.7h0M1688.4 73.0h0M1694.6 71.2h0M1700.8 69.2h0M1707.0 67.2h0M1713.2 65.0h0M1719.4 62.9h0M1725.6 60.7h0M1731.8 58.5h0M1738.0 56.5h0" fill="none" stroke="#ff00ff" stroke-width="27.5" stroke-linecap="round"/>
</g>
<path d="M1318.5 346.0 L1325.9 479.0 L1338.0 655.0 L1345.3 713.6 L1364.4 878.0 L1371.0 924.0 L1383.0 1007.0 L1397.0 1080.0 L1410.0 1152.0 L1425.0 1190.0 L1444.0 1240.0 L1466.0 1270.0 L1481.0 1277.5 L1487.0 1274.0 L1506.0 1258.0 L1525.0 1230.0 L1556.0 1176.0 L1572.0 1159.0 L1612.0 1134.0 L1644.0 1112.0 L1665.0 1087.0 L1692.8 1058.0" fill="none" stroke="#0000ff" stroke-width="4.0" stroke-linejoin="round" stroke-linecap="round"/>
<path d="M1318.5 345.9h0M1325.9 479.2h0M1330.2 650.0h0M1339.3 656.7h0M1351.3 675.0h0M1345.3 713.6h0M1364.7 878.1h0M1357.8 899.4h0M1371.3 918.1h0M1391.3 990.0h0M1377.2 1007.2h0M1398.4 1071.3h0M1383.4 1080.6h0M1410.3 1154.0h0M1402.5 1173.8h0M1420.3 1171.3h0M1436.6 1165.6h0M1489.1 1158.1h0M1429.7 1243.1h0M1441.3 1246.3h0M1450.0 1249.4h0M1469.7 1254.0h0M1475.9 1277.5h0M1508.8 1256.6h0M1515.6 1247.8h0M1526.6 1249.4h0M1535.0 1251.9h0M1555.3 1240.9h0M1454.7 1335.3h0M1462.5 1338.4h0M1482.8 1347.8h0M1496.3 1325.9h0M1503.1 1333.1h0M1541.3 1146.3h0M1548.4 1174.4h0M1560.9 1168.1h0M1567.8 1144.7h0M1573.4 1157.2h0M1587.5 1132.2h0M1598.4 1152.5h0M1606.3 1126.0h0M1612.5 1180.6h0M1620.3 1143.1h0M1626.6 1110.3h0M1632.8 1152.5h0M1640.6 1118.1h0M1646.9 1113.4h0M1659.4 1132.8h0M1593.8 969.7h0M1653.1 1053.1h0M1665.6 1085.3h0M1673.4 1072.8h0M1679.7 1066.6h0M1687.5 1076.0h0M1692.8 1057.8h0" fill="none" stroke="#0000ff" stroke-width="21.8" stroke-linecap="round"/>
<g stroke="#2b2b2b" stroke-width="4.6" fill="none" stroke-linejoin="round" stroke-linecap="butt">
<rect x="247.0" y="38.6" width="1541.0" height="1561.8000000000002"/>
</g>
<g stroke="#2b2b2b" stroke-width="3.8" fill="none">
<path d="M467.1 1600.4v-42.2M687.3 1600.4v-42.2M907.4 1600.4v-42.2M1127.6 1600.4v-42.2M1347.7 1600.4v-42.2M1567.9 1600.4v-42.2M247.0 89.2h42.2M247.0 592.9h42.2M247.0 1096.7h42.2M247.0 1600.4h42.2M1788.0 1246.9h-42.2M1788.0 1045.6h-42.2M1788.0 844.3h-42.2M1788.0 643.0h-42.2M1788.0 441.7h-42.2M1788.0 240.4h-42.2"/>
</g>
<text x="467.1" y="1686" text-anchor="middle">0</text>
<text x="687.3" y="1686" text-anchor="middle">0.2</text>
<text x="907.4" y="1686" text-anchor="middle">0.4</text>
<text x="1127.6" y="1686" text-anchor="middle">0.6</text>
<text x="1347.7" y="1686" text-anchor="middle">0.8</text>
<text x="1567.9" y="1686" text-anchor="middle">1</text>
<text x="207.5" y="107.8" text-anchor="end">0</text>
<text x="207.5" y="611.5" text-anchor="end">-1</text>
<text x="207.5" y="1115.3" text-anchor="end">-2</text>
<text x="207.5" y="1619.0" text-anchor="end">-3</text>
<text x="1828.5" y="1265.5">0.6</text>
<text x="1828.5" y="1064.2">0.8</text>
<text x="1828.5" y="862.9">1</text>
<text x="1828.5" y="661.6">1.2</text>
<text x="1828.5" y="460.3">1.4</text>
<text x="1828.5" y="259.0">1.6</text>
<text x="1017.5" y="1787.5" text-anchor="middle">E, V vs RHE</text>
<text transform="translate(86.4 819.5) rotate(-90)" text-anchor="middle">j, mA/cm<tspan class="sm" dy="-28">2</tspan></text>
<text transform="translate(2043.8 817) rotate(-90)" text-anchor="middle">dj<tspan class="sm" dy="-28">2</tspan><tspan dy="28">/dV</tspan><tspan class="sm" dy="-28">2</tspan><tspan dy="28">/mA cm</tspan><tspan class="sm" dy="-28">-2</tspan><tspan dy="28">V</tspan><tspan class="sm" dy="-28">-2</tspan></text>
<text x="1155.5" y="713.0">rpm</text>
<text x="1155.5" y="797.0">400</text>
<text x="1155.5" y="881.1">800</text>
<text x="1155.5" y="965.1">1200</text>
<text x="1155.5" y="1049.2">1600</text>
<text x="1155.5" y="1133.2">2000</text>
<text x="1155.5" y="1217.3">2400</text>
<text x="1171" y="1463.3">E<tspan class="sm" dy="16">onset</tspan><tspan dy="-16">=0.92 V</tspan></text>
</g>
<defs><filter id="bl" x="0" y="0" width="2080" height="1824" filterUnits="userSpaceOnUse"><feGaussianBlur stdDeviation="1.2"/></filter><filter id="bc" x="0" y="0" width="2080" height="1824" filterUnits="userSpaceOnUse"><feGaussianBlur stdDeviation="1.0"/></filter></defs>
</svg></body></html>
